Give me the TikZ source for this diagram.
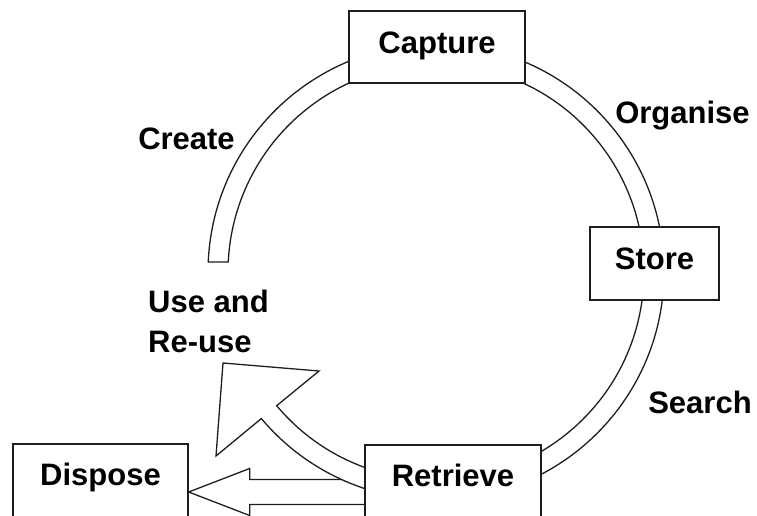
\documentclass[tikz,border=0pt]{standalone}
\usepackage{fontspec}
\setmainfont{Liberation Sans}
\usetikzlibrary{calc,backgrounds}
\definecolor{ink}{HTML}{1E1E1E}
\begin{document}
\begin{tikzpicture}[x=1pt,y=-1pt,
  lbl/.style={font=\fontsize{31}{37}\selectfont\bfseries, inner sep=0pt, anchor=base},
  stagebox/.style={draw=ink, fill=white, line width=1.3pt, inner sep=0pt,
    font=\fontsize{31}{37}\selectfont\bfseries, text height=22pt, text depth=10pt},
  band/.style={draw=ink, fill=white, line width=1.3pt, line join=miter},
]
\useasboundingbox (0,0) rectangle (757,515);
\clip (0,0) rectangle (757,515);

% centre of the life-cycle ring
\coordinate (hub) at (436,272);

% stages
\node[stagebox, minimum width=176pt, minimum height=72pt] (capture) at (437,47) {Capture};
\node[stagebox, minimum width=129pt, minimum height=73pt] (store) at (654.5,263.5) {Store};
\node[stagebox, minimum width=176pt, minimum height=100pt, text depth=40pt] (retrieve) at (453,495) {Retrieve};
\node[stagebox, minimum width=175pt, minimum height=100pt, text depth=40pt] (dispose) at (100.5,494) {Dispose};

% activities along the ring
\node[lbl] (create) at (186.5,149) {Create};
\node[lbl] (organise) at (682.5,123) {Organise};
\node[lbl] (search) at (700,413) {Search};
\node[lbl, anchor=base west] (use) at (148,312) {Use and};
\node[lbl, anchor=base west] (reuse) at (148,352) {Re-use};

\begin{pgfonlayer}{background}
  % block arrow from Retrieve to Dispose
  \path (dispose.east) ++(0,-2) coordinate (dtip);
  \draw[band] ($(retrieve.west |- dtip)+(0,-12.5)$) -- ($(dtip)+(61,-12.5)$)
    -- ($(dtip)+(61,-23.5)$) -- (dtip) -- ($(dtip)+(61,23.5)$)
    -- ($(dtip)+(61,12.5)$) -- ($(retrieve.west |- dtip)+(0,12.5)$);

  % ring band ending in an arrow head towards "Use and Re-use"
  \coordinate (headL) at (216,456);
  \coordinate (headT) at (223,363);
  \coordinate (headR) at (319,371);
  \draw[band] ($(hub)+(182.5:228)$) arc[start angle=182.5, end angle=500, radius=228]
    -- (headL) -- (headT) -- (headR)
    -- ($(hub)+(140:208)$) arc[start angle=500, end angle=182.76, radius=208] -- cycle;
\end{pgfonlayer}
\end{tikzpicture}
\end{document}
